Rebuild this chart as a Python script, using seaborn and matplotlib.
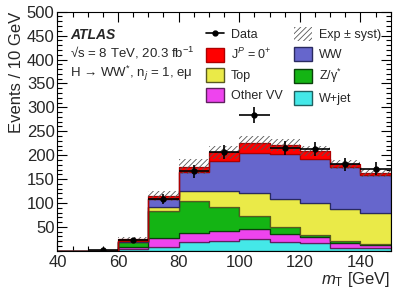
import numpy as np
import pandas as pd
import matplotlib
matplotlib.use("Agg")
import matplotlib.pyplot as plt
import seaborn as sns
from matplotlib.patches import Patch
from matplotlib.lines import Line2D
from matplotlib.ticker import MultipleLocator, FixedLocator
from matplotlib.colors import to_rgb

# ---- data ----
bin_edges = [40, 50, 60, 70, 80, 90, 100, 110, 120, 130, 140, 150]
bin_centers = [45, 55, 65, 75, 85, 95, 105, 115, 125, 135, 145]

wjet     = [0, 0, 3.0, 9.0, 18.0, 20.0, 24.0, 17.5, 15.5, 6.5, 5.0]
other_vv = [0, 0, 4.0, 17.0, 20.0, 21.0, 21.0, 18.5, 12.5, 10.5, 8.0]
zgamma   = [0, 0, 11.0, 57.0, 67.0, 51.0, 28.0, 13.5, 5.5, 4.0, 1.5]
top      = [0, 0, 1.5, 8.0, 20.5, 33.5, 47.0, 58.5, 65.5, 65.5, 64.5]
ww       = [0, 0, 1.5, 16.5, 40.0, 62.5, 84.0, 93.5, 92.0, 88.0, 79.0]
signal   = [0.6, 0.0, 4.0, 7.5, 10.5, 18.0, 21.0, 19.5, 18.0, 6.5, 5.0]
syst     = [0, 0, 3.0, 10.0, 15.0, 14.0, 15.0, 12.0, 11.0, 9.0, 8.5]

data_x = [55, 65, 75, 85, 95, 105, 115, 125, 135, 145]
data_y = [1, 22, 108, 166, 207, 284, 215, 212, 181, 172]

x_ticks = [40, 60, 80, 100, 120, 140]
y_ticks = [50, 100, 150, 200, 250, 300, 350, 400, 450, 500]

labels = {
    "signal": "J$^{P}$ = 0$^{+}$",
    "ww": "WW",
    "top": "Top",
    "zgamma": "Z/γ$^{*}$",
    "other_vv": "Other VV",
    "wjet": "W+jet",
}
colors = {
    "signal": "#ff0000",
    "ww": "#6666cc",
    "top": "#eaea48",
    "zgamma": "#14b414",
    "other_vv": "#ee44ee",
    "wjet": "#44e8e8",
}
edges = {
    "signal": "#b00000",
    "ww": "#2a2a60",
    "top": "#5a5a20",
    "zgamma": "#0a400a",
    "other_vv": "#602060",
    "wjet": "#206060",
}
series = {"wjet": wjet, "other_vv": other_vv, "zgamma": zgamma,
          "top": top, "ww": ww, "signal": signal}

# ---- style ----
sns.set_theme(style="ticks")
plt.rcParams["font.family"] = ["Liberation Sans", "DejaVu Sans"]
plt.rcParams["mathtext.fontset"] = "custom"
plt.rcParams["mathtext.rm"] = "Liberation Sans"
plt.rcParams["mathtext.it"] = "Liberation Sans:italic"
plt.rcParams["mathtext.bf"] = "Liberation Sans:bold"
plt.rcParams["hatch.linewidth"] = 0.6

fig = plt.figure(figsize=(4.07, 2.92), dpi=100)
ax = fig.add_axes([0.141, 0.141, 0.819, 0.819])

rows = []
for key, vals in series.items():
    for c, v in zip(bin_centers, vals):
        rows.append({"mT": c, "events": v, "process": key})
df = pd.DataFrame(rows)

hue_order = ["signal", "ww", "top", "zgamma", "other_vv", "wjet"]
sns.histplot(data=df, x="mT", weights="events", hue="process",
             hue_order=hue_order, bins=bin_edges, multiple="stack",
             element="step", palette=colors, alpha=1, linewidth=0.9,
             legend=False, ax=ax)

# darker edge per component
for coll in ax.collections:
    fc = coll.get_facecolor()
    if len(fc) == 0:
        continue
    rgb = tuple(fc[0][:3])
    for k, c in colors.items():
        if np.allclose(rgb, to_rgb(c), atol=0.01):
            coll.set_edgecolor(edges[k])

# systematic band
total = np.sum([np.array(v) for v in series.values()], axis=0)
syst_a = np.array(syst)
ax.stairs(total + syst_a, bin_edges, baseline=np.clip(total - syst_a, 0, None),
          fill=True, facecolor="none", edgecolor="#555555", hatch="//////",
          linewidth=0)

# data
ax.errorbar(data_x, data_y, xerr=5, yerr=np.sqrt(data_y), fmt="o",
            color="black", ms=3.5, elinewidth=1.2, capsize=0, zorder=10)

ax.set_xlim(40, 150)
ax.set_ylim(0, 500)
ax.xaxis.set_major_locator(FixedLocator(x_ticks))
ax.yaxis.set_major_locator(FixedLocator(y_ticks))
ax.xaxis.set_minor_locator(MultipleLocator(5))
ax.yaxis.set_minor_locator(MultipleLocator(10))
ax.tick_params(which="both", direction="in", top=True, right=True,
               labelsize=12, color="black")
ax.tick_params(axis="x", pad=3)
ax.tick_params(axis="y", pad=2)
ax.tick_params(which="major", length=7, width=0.8)
ax.tick_params(which="minor", length=3.5, width=0.8)
for s in ax.spines.values():
    s.set_color("black")
    s.set_linewidth(0.8)

ax.set_xlabel("$m_{\\mathrm{T}}$ [GeV]", loc="right", fontsize=12, labelpad=0)
ax.set_ylabel("Events / 10 GeV", loc="top", fontsize=12, labelpad=2)

ax.text(0.038, 0.9025, "ATLAS", transform=ax.transAxes, fontsize=10,
        fontweight="bold", fontstyle="italic", va="center")
ax.text(0.038, 0.826, "√s = 8 TeV, 20.3 fb$^{-1}$", transform=ax.transAxes,
        fontsize=9.5, va="center")
ax.text(0.038, 0.742, "H → WW$^{*}$, n$_{j}$ = 1, eμ", transform=ax.transAxes,
        fontsize=9.5, va="center")

handles = [
    Line2D([], [], color="black", marker="o", ms=3.5, lw=1.2),
    Patch(facecolor=colors["signal"], edgecolor=edges["signal"]),
    Patch(facecolor=colors["top"], edgecolor=edges["top"]),
    Patch(facecolor=colors["other_vv"], edgecolor=edges["other_vv"]),
    Patch(facecolor="white", edgecolor="#555555", hatch="//////", lw=0),
    Patch(facecolor=colors["ww"], edgecolor=edges["ww"]),
    Patch(facecolor=colors["zgamma"], edgecolor=edges["zgamma"]),
    Patch(facecolor=colors["wjet"], edgecolor=edges["wjet"]),
]
leg_labels = ["Data", labels["signal"], labels["top"], labels["other_vv"],
              "Exp ± syst)", labels["ww"], labels["zgamma"], labels["wjet"]]
ax.legend(handles, leg_labels, ncol=2, loc="upper left",
          bbox_to_anchor=(0.43, 0.957), frameon=False, fontsize=9,
          handlelength=1.5, handleheight=1.4, handletextpad=0.5,
          columnspacing=0.9, labelspacing=0.45, borderaxespad=0)

fig.savefig("out.png", dpi=100)
